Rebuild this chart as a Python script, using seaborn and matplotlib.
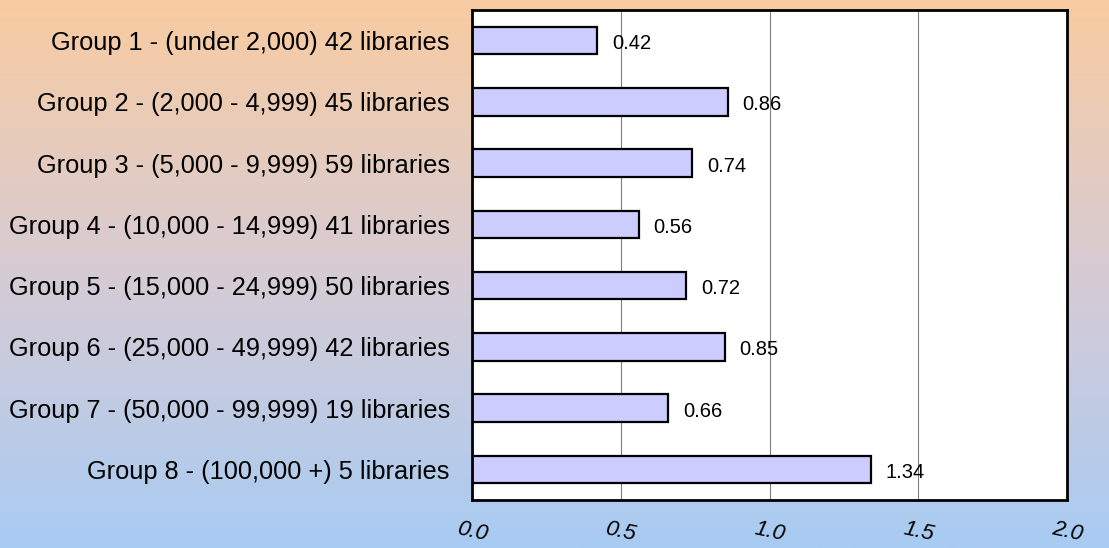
import numpy as np
import pandas as pd
import matplotlib
matplotlib.use('Agg')
import matplotlib.pyplot as plt
import seaborn as sns
from matplotlib.colors import LinearSegmentedColormap

groups = [
    "Group 1 - (under 2,000) 42 libraries",
    "Group 2 - (2,000 - 4,999) 45 libraries",
    "Group 3 - (5,000 - 9,999) 59 libraries",
    "Group 4 - (10,000 - 14,999) 41 libraries",
    "Group 5 - (15,000 - 24,999) 50 libraries",
    "Group 6 - (25,000 - 49,999) 42 libraries",
    "Group 7 - (50,000 - 99,999) 19 libraries",
    "Group 8 - (100,000 +) 5 libraries",
]
values = [0.42, 0.86, 0.74, 0.56, 0.72, 0.85, 0.66, 1.34]
xticks = [0.0, 0.5, 1.0, 1.5, 2.0]
xtick_labels = ["0.0", "0.5", "1.0", "1.5", "2.0"]

df = pd.DataFrame({"group": groups, "value": values})

sns.set_style("white")
plt.rcParams['font.family'] = ['Liberation Sans', 'DejaVu Sans']
plt.rcParams['text.color'] = 'black'
plt.rcParams['xtick.color'] = 'black'
plt.rcParams['ytick.color'] = 'black'

W, H = 1109, 548
fig = plt.figure(figsize=(W / 100, H / 100), dpi=100)

# gradient background (peach at top -> light blue at bottom)
bg = fig.add_axes([0, 0, 1, 1], zorder=0)
cmap = LinearSegmentedColormap.from_list("bg", ["#A8CBF3", "#D6CCD4", "#F9CBA1"])
grad = np.linspace(0, 1, 256).reshape(-1, 1)
bg.imshow(grad, aspect='auto', cmap=cmap, origin='lower', extent=[0, 1, 0, 1])
bg.axis('off')

ax = fig.add_axes([472 / W, 1 - 500 / H, (1067 - 472) / W, 490 / H], zorder=1)
ax.set_facecolor('white')
sns.barplot(data=df, x="value", y="group", ax=ax, color="#CCCCFF",
            edgecolor="black", linewidth=1.6, width=0.45, saturation=1)

ax.set_xlim(0, 2.0)
ax.set_xticks(xticks)
ax.set_xticklabels(xtick_labels, fontsize=16, style='italic', rotation=-12)
ax.tick_params(axis='x', length=0, pad=13, labelcolor='black')
ax.tick_params(axis='y', length=0, pad=16, labelsize=18.3, labelcolor='black')
ax.set_xlabel("")
ax.set_ylabel("")

ax.grid(axis='x', color='#808080', linewidth=0.8)
ax.set_axisbelow(True)
for s in ax.spines.values():
    s.set_color('black')
    s.set_linewidth(2)

for i, v in enumerate(values):
    ax.text(v + 0.05, i + 0.05, f"{v:.2f}", va='center', ha='left',
            fontsize=14.5, color='black')

fig.savefig("out.png", dpi=100)
